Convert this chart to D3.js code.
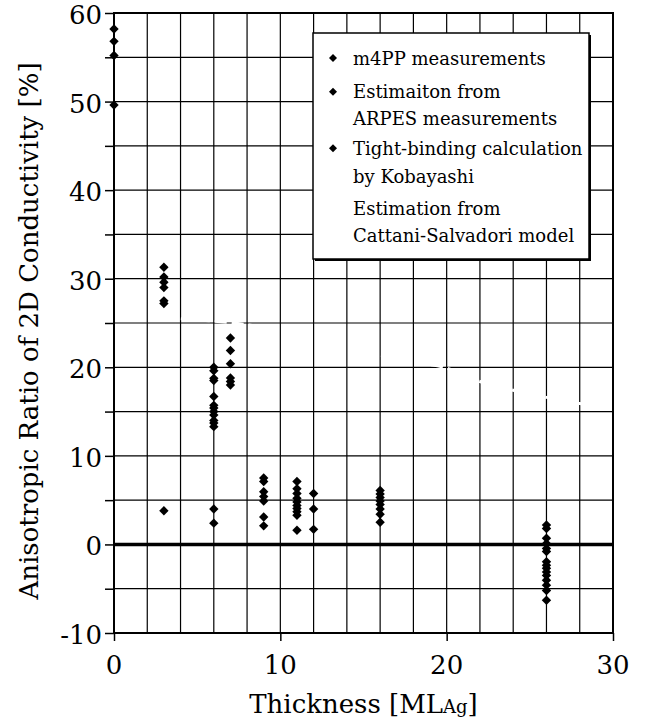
<!DOCTYPE html>
<html>
<head>
<meta charset="utf-8">
<script src="https://cdn.jsdelivr.net/npm/d3@7"></script>
<style>
  body { margin: 0; background: #ffffff; }
</style>
</head>
<body>
<script>
// thickness groups (ML Ag) and the m4PP ratios measured at each of them
const thicknessLevels = [0, 3, 6, 7, 9, 11, 12, 16, 26];
const m4ppValues = [
  [58.2, 56.8, 55.2, 49.6],
  [31.3, 30.2, 29.6, 29.0, 27.5, 27.2, 3.8],
  [20.0, 19.6, 18.75, 18.5, 16.7, 15.7, 15.4, 15.0, 14.6, 14.0, 13.7, 13.3, 4.0, 2.4],
  [23.3, 21.9, 20.4, 18.8, 18.4, 18.0],
  [7.5, 7.1, 5.95, 5.4, 4.9, 3.1, 2.1],
  [7.1, 6.3, 5.75, 5.2, 4.8, 4.4, 4.06, 3.7, 3.3, 1.6],
  [5.75, 4.0, 1.7],
  [6.1, 5.7, 5.3, 4.9, 4.5, 4.0, 3.4, 2.5],
  [2.2, 1.8, 0.7, 0.1, -0.45, -0.8, -1.95, -2.35, -2.7, -3.1, -3.5, -4.05, -4.6, -5.2, -6.3]
];

// Cattani-Salvadori estimate (white dashed line in the original)
const modelThickness = [3, 6, 8, 10, 12, 14, 16, 18, 20, 22, 24, 26, 28, 30];
const modelRatio = [25.6, 25.2, 24.8, 24.0, 23.3, 22.5, 21.4, 20.6, 19.9, 18.4, 17.4, 16.6, 15.9, 15.4];

const xTicks = [0, 10, 20, 30];
const yTicks = [-10, 0, 10, 20, 30, 40, 50, 60];

const legendEntries = [
  { lines: ['m4PP measurements'], marker: true },
  { lines: ['Estimaiton from', 'ARPES measurements'], marker: true },
  { lines: ['Tight-binding calculation', 'by Kobayashi'], marker: true },
  { lines: ['Estimation from', 'Cattani-Salvadori model'], marker: false }
];

const W = 647, H = 724;
const plot = { left: 114, right: 613, top: 13, bottom: 633 };
const serif = "'DejaVu Serif', 'Liberation Serif', 'Noto Serif', Tinos, serif";

const svg = d3.select('body').append('svg')
  .attr('width', W).attr('height', H)
  .attr('xmlns', 'http://www.w3.org/2000/svg')
  .style('font-family', serif);

const x = d3.scaleLinear().domain([0, 30]).range([plot.left, plot.right]);
const y = d3.scaleLinear().domain([-10, 60]).range([plot.bottom, plot.top]);

// grid
const grid = svg.append('g').attr('stroke', '#000').attr('stroke-width', 1.2);
grid.selectAll('.vgrid')
  .data(d3.range(2, 30, 2))
  .enter().append('line')
  .attr('x1', d => x(d)).attr('x2', d => x(d))
  .attr('y1', plot.top).attr('y2', plot.bottom);
grid.selectAll('.hgrid')
  .data(d3.range(-5, 60, 5))
  .enter().append('line')
  .attr('x1', plot.left).attr('x2', plot.right)
  .attr('y1', d => y(d)).attr('y2', d => y(d));

// model curve, white and dashed so it only shows where it cuts the grid
svg.append('path')
  .datum(modelThickness.map((t, i) => [t, modelRatio[i]]))
  .attr('fill', 'none')
  .attr('stroke', '#ffffff')
  .attr('stroke-width', 3)
  .attr('stroke-dasharray', '12,5')
  .attr('d', d3.line().x(d => x(d[0])).y(d => y(d[1])).curve(d3.curveMonotoneX));

// zero line
svg.append('line')
  .attr('x1', plot.left).attr('x2', plot.right)
  .attr('y1', y(0)).attr('y2', y(0))
  .attr('stroke', '#000').attr('stroke-width', 3.5);

// frame
svg.append('rect')
  .attr('x', plot.left).attr('y', plot.top)
  .attr('width', plot.right - plot.left).attr('height', plot.bottom - plot.top)
  .attr('fill', 'none').attr('stroke', '#000').attr('stroke-width', 2);

// axes
const yAxis = svg.append('g')
  .attr('transform', `translate(${plot.left},0)`)
  .call(d3.axisLeft(y).tickValues(d3.range(-10, 61, 5)).tickSize(9).tickFormat(''));
const xAxis = svg.append('g')
  .attr('transform', `translate(0,${plot.bottom})`)
  .call(d3.axisBottom(x).tickValues(xTicks).tickSize(8).tickFormat(''));
[yAxis, xAxis].forEach(a => {
  a.select('.domain').remove();
  a.selectAll('line').attr('stroke', '#000').attr('stroke-width', 1.5);
});

svg.append('g').selectAll('text')
  .data(yTicks)
  .enter().append('text')
  .attr('x', plot.left - 12)
  .attr('y', d => y(d) + 2)
  .attr('text-anchor', 'end')
  .attr('dominant-baseline', 'central')
  .style('font-size', '26px')
  .text(d => String(d));

svg.append('g').selectAll('text')
  .data(xTicks)
  .enter().append('text')
  .attr('x', d => x(d))
  .attr('y', plot.bottom + 32)
  .attr('text-anchor', 'middle')
  .attr('dominant-baseline', 'central')
  .style('font-size', '26px')
  .text(d => String(d));

// axis titles
const xTitle = svg.append('text')
  .attr('x', (plot.left + plot.right) / 2)
  .attr('y', 713)
  .attr('text-anchor', 'middle')
  .style('font-size', '26px');
xTitle.append('tspan').text('Thickness [ML');
xTitle.append('tspan').style('font-size', '18px').text('Ag');
xTitle.append('tspan').text(']');

svg.append('text')
  .attr('transform', `translate(38,${(plot.top + plot.bottom) / 2 + 8}) rotate(-90)`)
  .attr('text-anchor', 'middle')
  .style('font-size', '26px')
  .text('Anisotropic Ratio of 2D Conductivity [%]');

// data points
const diamond = d3.symbol().type(d3.symbolSquare).size(44);
const points = [];
thicknessLevels.forEach((t, i) => m4ppValues[i].forEach(v => points.push({ t, v })));
svg.append('g').selectAll('path')
  .data(points)
  .enter().append('path')
  .attr('d', diamond)
  .attr('transform', d => `translate(${x(d.t)},${y(d.v)}) rotate(45)`)
  .attr('fill', '#000');

// legend
const legend = svg.append('g');
legend.append('rect')
  .attr('x', 315).attr('y', 35).attr('width', 276).attr('height', 226)
  .attr('fill', '#000');
legend.append('rect')
  .attr('x', 313).attr('y', 33).attr('width', 276).attr('height', 226)
  .attr('fill', '#fff').attr('stroke', '#000').attr('stroke-width', 1.5);

const rowY = [[58], [91.7, 118], [148.3, 176], [208, 235]];
legendEntries.forEach((e, i) => {
  if (e.marker) {
    legend.append('path')
      .attr('d', d3.symbol().type(d3.symbolSquare).size(32))
      .attr('transform', `translate(333,${rowY[i][0]}) rotate(45)`)
      .attr('fill', '#000');
  }
  e.lines.forEach((l, j) => {
    legend.append('text')
      .attr('x', 353)
      .attr('y', rowY[i][j])
      .attr('dominant-baseline', 'central')
      .style('font-size', '18px')
      .text(l);
  });
});
</script>
</body>
</html>
